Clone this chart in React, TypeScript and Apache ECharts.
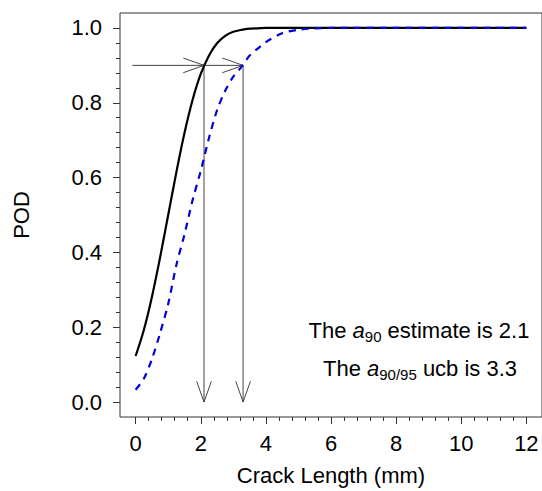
import React, { useEffect, useRef } from "react";
import * as echarts from "echarts";

// Crack length grid (mm) and POD values
const crackLen = [0, 0.25, 0.5, 0.75, 1.0, 1.25, 1.5, 1.75, 2.0, 2.25, 2.5, 2.75, 3.0, 3.25, 3.5, 3.75, 4.0, 4.5, 5.0, 5.5, 6.0, 7.0, 8.0, 10.0, 12.0];
const podEstimate = [0.123, 0.192, 0.281, 0.386, 0.5, 0.614, 0.719, 0.808, 0.877, 0.926, 0.959, 0.979, 0.99, 0.995, 0.998, 0.999, 1.0, 1.0, 1.0, 1.0, 1.0, 1.0, 1.0, 1.0, 1.0];
const podUcb = [0.033, 0.062, 0.115, 0.184, 0.262, 0.366, 0.448, 0.54, 0.618, 0.705, 0.78, 0.832, 0.87, 0.896, 0.926, 0.945, 0.962, 0.986, 0.995, 0.999, 1.0, 1.0, 1.0, 1.0, 1.0];

// Arrows: [x0, y0, x1, y1] in data units
const a90 = 2.1;
const a9095 = 3.3;
const podTarget = 0.9;
const arrows = [
  [-0.1, podTarget, a90, podTarget],
  [a90, podTarget, a9095, podTarget],
  [a90, podTarget, a90, 0],
  [a9095, podTarget, a9095, 0],
];

const xMajorTicks = [0, 2, 4, 6, 8, 10, 12];
const yMajorTicks = [0, 0.2, 0.4, 0.6, 0.8, 1.0];
const xMinorTicks = Array.from({ length: 31 }, (_, i) => +(i * 0.4).toFixed(2));
const yMinorTicks = Array.from({ length: 26 }, (_, i) => +(i * 0.04).toFixed(2));

const FONT = "'Liberation Sans', Arial, sans-serif";
const AXIS_COLOR = "#333";
const FS = 22;

export default function App() {
  const ref = useRef<HTMLDivElement>(null);
  useEffect(() => {
    if (!ref.current) return;
    const chart = echarts.init(ref.current, undefined, { renderer: "svg" });
    const xMin = -0.48, xMax = 12.48, yMin = -0.04, yMax = 1.04;
    const pxPerX = 33;
    const labelStyle = { color: "#000", fontSize: FS, fontFamily: FONT };
    const richText = {
      n: { fontSize: FS, fontFamily: FONT, lineHeight: 28, fill: "#000" },
      i: { fontSize: FS, fontFamily: FONT, fontStyle: "italic", lineHeight: 28, fill: "#000" },
      s: { fontSize: 15, fontFamily: FONT, lineHeight: 28, verticalAlign: "bottom", fill: "#000" },
    };
    const baseAxis = {
      type: "value",
      splitLine: { show: false },
      axisLine: { show: false, onZero: false },
    };
    chart.setOption({
      animation: false,
      grid: {
        left: 120,
        top: 13,
        height: 409,
        width: (xMax - xMin) * pxPerX,
        show: true,
        borderColor: AXIS_COLOR,
        borderWidth: 1,
        backgroundColor: "transparent",
      },
      xAxis: [
        {
          ...baseAxis,
          min: xMin,
          max: xMax,
          position: "bottom",
          axisTick: { show: true, length: 7, customValues: xMajorTicks, lineStyle: { color: AXIS_COLOR } },
          axisLabel: { ...labelStyle, margin: 15, customValues: xMajorTicks, formatter: (v: number) => String(v) },
          name: "Crack Length (mm)",
          nameLocation: "middle",
          nameGap: 47,
          nameTextStyle: { color: "#000", fontSize: FS, fontFamily: FONT },
        },
        {
          ...baseAxis,
          min: xMin,
          max: xMax,
          position: "bottom",
          axisTick: { show: true, length: 4, customValues: xMinorTicks, lineStyle: { color: AXIS_COLOR } },
          axisLabel: { show: false },
        },
      ],
      yAxis: [
        {
          ...baseAxis,
          min: yMin,
          max: yMax,
          position: "left",
          axisTick: { show: true, length: 7, customValues: yMajorTicks, lineStyle: { color: AXIS_COLOR } },
          axisLabel: { ...labelStyle, margin: 18, customValues: yMajorTicks, formatter: (v: number) => v.toFixed(1) },
          name: "POD",
          nameLocation: "middle",
          nameGap: 88,
          nameTextStyle: { color: "#000", fontSize: FS, fontFamily: FONT },
        },
        {
          ...baseAxis,
          min: yMin,
          max: yMax,
          position: "left",
          axisTick: { show: true, length: 4, customValues: yMinorTicks, lineStyle: { color: AXIS_COLOR } },
          axisLabel: { show: false },
        },
      ],
      series: [
        {
          type: "line",
          name: "POD estimate",
          data: crackLen.map((x, i) => [x, podEstimate[i]]),
          showSymbol: false,
          smooth: 0.3,
          lineStyle: { color: "#000", width: 2.2 },
          z: 3,
        },
        {
          type: "line",
          name: "a90/95 ucb",
          data: crackLen.map((x, i) => [x, podUcb[i]]),
          showSymbol: false,
          smooth: 0.3,
          lineStyle: { color: "#0000D8", width: 2.2, type: [7, 6] },
          z: 3,
        },
        {
          type: "custom",
          name: "arrows",
          data: arrows,
          encode: { x: [0, 2], y: [1, 3] },
          clip: false,
          z: 2,
          renderItem: (params: any, api: any) => {
            const p0 = api.coord([api.value(0), api.value(1)]);
            const p1 = api.coord([api.value(2), api.value(3)]);
            const dx = p1[0] - p0[0];
            const dy = p1[1] - p0[1];
            const len = Math.hypot(dx, dy);
            const ux = dx / len, uy = dy / len;
            const L = 22;
            const ang = (19.5 * Math.PI) / 180;
            const c = Math.cos(ang), s = Math.sin(ang);
            const h1 = [p1[0] - L * (ux * c - uy * s), p1[1] - L * (uy * c + ux * s)];
            const h2 = [p1[0] - L * (ux * c + uy * s), p1[1] - L * (uy * c - ux * s)];
            const stroke = { stroke: "#444", lineWidth: 1, fill: "none" };
            return {
              type: "group",
              children: [
                { type: "line", shape: { x1: p0[0], y1: p0[1], x2: p1[0], y2: p1[1] }, style: stroke },
                { type: "polyline", shape: { points: [h1, p1, h2] }, style: stroke },
              ],
            };
          },
        },
      ],
      graphic: [
        {
          type: "text",
          x: 419,
          y: 330,
          style: {
            text: "{n|The }{i|a}{s|90}{n| estimate is 2.1}",
            rich: richText,
            align: "center",
            verticalAlign: "middle",
          },
        },
        {
          type: "text",
          x: 420,
          y: 368,
          style: {
            text: "{n|The }{i|a}{s|90/95}{n| ucb is 3.3}",
            rich: richText,
            align: "center",
            verticalAlign: "middle",
          },
        },
      ],
    });
    return () => chart.dispose();
  }, []);
  return (
    <div
      ref={ref}
      style={{ position: "fixed", left: 0, top: 0, width: 542, height: 491, background: "#fff" }}
    />
  );
}
